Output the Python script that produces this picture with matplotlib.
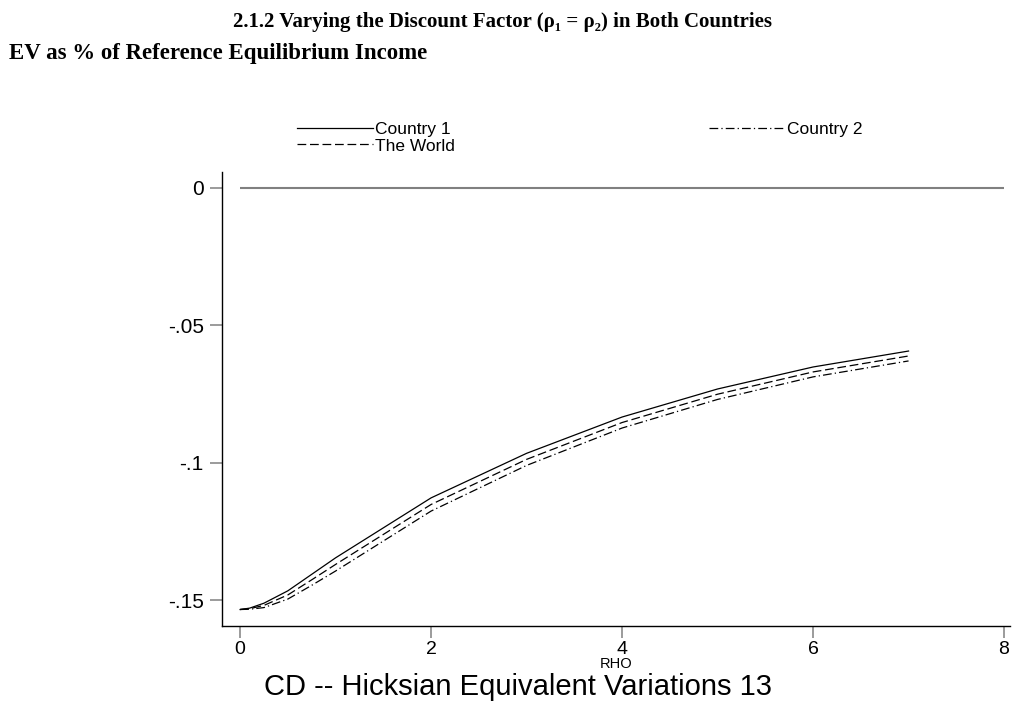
import matplotlib
matplotlib.use("Agg")
import matplotlib.pyplot as plt

# EV as % of reference equilibrium income
rho = [0, 0.1, 0.25, 0.5, 0.75, 1, 2, 3, 4, 5, 6, 7]
country1 = [-0.1533, -0.1528, -0.1510, -0.1465, -0.1405, -0.1345,
            -0.1127, -0.0965, -0.0833, -0.0731, -0.0651, -0.0593]
world = [-0.1533, -0.1530, -0.1518, -0.1480, -0.1425, -0.1369,
         -0.1151, -0.0987, -0.0853, -0.0750, -0.0669, -0.0611]
country2 = [-0.1533, -0.1532, -0.1526, -0.1495, -0.1445, -0.1393,
            -0.1175, -0.1009, -0.0873, -0.0769, -0.0687, -0.0629]
# zero reference line
ref_x = [0, 8]
ref_y = [0, 0]

yticks = [0, -0.05, -0.1, -0.15]
ytick_labels = ["0", "-.05", "-.1", "-.15"]
xticks = [0, 2, 4, 6, 8]

plt.rcParams['font.family'] = ['Liberation Sans', 'DejaVu Sans']

fig = plt.figure(figsize=(10.21, 7.10), dpi=100)
ax = fig.add_axes([0.2174, 0.1183, 0.7716, 0.6394])

ax.plot(ref_x, ref_y, color='#808080', lw=1.5, solid_capstyle='butt')
l1, = ax.plot(rho, country1, color='black', lw=0.9, label='Country 1')
l2, = ax.plot(rho, country2, color='black', lw=0.9, dashes=(7, 2.5, 1, 2.5),
              label='Country 2')
l3, = ax.plot(rho, world, color='black', lw=0.9, dashes=(7, 3),
              label='The World')

ax.set_xlim(-0.19, 8.06)
ax.set_ylim(-0.1593, 0.0058)
ax.set_xticks(xticks)
ax.set_xticklabels([str(t) for t in xticks])
ax.set_yticks(yticks)
ax.set_yticklabels(ytick_labels)
ax.tick_params(axis='both', direction='out', length=8.6, width=1.1,
               color='#808080')
ax.tick_params(axis='y', pad=4.5, labelsize=15)
ax.tick_params(axis='x', pad=2, labelsize=14)
for s in ['top', 'right']:
    ax.spines[s].set_visible(False)
for s in ['left', 'bottom']:
    ax.spines[s].set_linewidth(1.0)
ax.set_xlabel('RHO', fontsize=10.5, labelpad=-0.5)

# row-major order like the original: Country 1, Country 2 / The World
leg = fig.legend([l1, l3, l2], ['Country 1', 'The World', 'Country 2'],
                 ncol=2, loc='upper left', bbox_to_anchor=(297 / 1021, 1 - 122 / 710),
                 frameon=False, fontsize=12.5, handlelength=4.4,
                 handletextpad=0.12, columnspacing=14.6, labelspacing=0.07,
                 borderpad=0, borderaxespad=0)

fig.text(502 / 1021, 1 - 22 / 710,
         '2.1.2 Varying the Discount Factor (ρ\u2081 = ρ\u2082) in Both Countries',
         family=['Liberation Serif', 'DejaVu Serif'], weight='bold', fontsize=15,
         ha='center', va='center')
fig.text(9 / 1021, 1 - 53 / 710, 'EV as % of Reference Equilibrium Income',
         family=['Liberation Serif', 'DejaVu Serif'], weight='bold', fontsize=16.5,
         ha='left', va='center')
fig.text(518 / 1021, 1 - 687 / 710, 'CD -- Hicksian Equivalent Variations 13',
         fontsize=21, ha='center', va='center')

fig.savefig('out.png', dpi=100)
